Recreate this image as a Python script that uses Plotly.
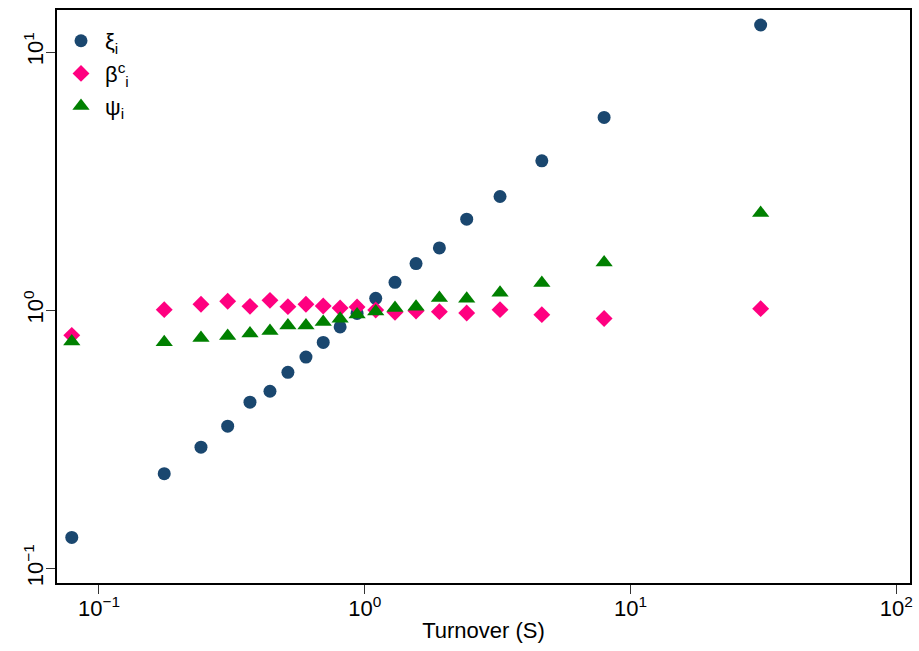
import plotly.graph_objects as go

# ---- data ----
turnover = [0.079, 0.176, 0.242, 0.305, 0.370, 0.440, 0.514, 0.601, 0.698, 0.808,
            0.936, 1.10, 1.30, 1.56, 1.91, 2.42, 3.23, 4.64, 7.96, 30.9]
xi = [0.132, 0.233, 0.295, 0.356, 0.441, 0.486, 0.575, 0.659, 0.751, 0.862,
      0.973, 1.113, 1.284, 1.517, 1.744, 2.253, 2.759, 3.791, 5.583, 12.73]
beta_c = [0.800, 1.006, 1.055, 1.084, 1.036, 1.093, 1.033, 1.055, 1.039, 1.021,
          1.030, 1.003, 0.982, 0.994, 0.988, 0.976, 1.006, 0.962, 0.929, 1.015]
psi = [0.758, 0.753, 0.781, 0.796, 0.814, 0.831, 0.874, 0.874, 0.901, 0.927,
       0.964, 0.990, 1.020, 1.033, 1.115, 1.108, 1.169, 1.276, 1.532, 2.38]

series_names = ["ξ<sub>i</sub>", "β<sup>c</sup><sub>i</sub>", "ψ<sub>i</sub>"]
x_tickvals = [0.1, 1, 10, 100]
x_ticktext = ["10<sup>−1</sup>", "10<sup>0</sup>", "10<sup>1</sup>", "10<sup>2</sup>"]
y_tickvals = [0.1, 1, 10]
y_ticktext = ["10<sup>−1</sup>", "10<sup>0</sup>", "10<sup>1</sup>"]
x_title = "Turnover (S)"

FONT = "Liberation Sans, Arial, sans-serif"

fig = go.Figure()
fig.add_trace(go.Scatter(x=turnover, y=xi, mode="markers", name=series_names[0],
                         marker=dict(symbol="circle", size=13, color="#1a476f"),
                         legend="legend"))
fig.add_trace(go.Scatter(x=turnover, y=beta_c, mode="markers", name=series_names[1],
                         marker=dict(symbol="diamond", size=13, color="#ff0080"),
                         legend="legend2"))
fig.add_trace(go.Scatter(x=turnover, y=psi, mode="markers", name=series_names[2],
                         marker=dict(symbol="triangle-up", size=15, color="#008000"),
                         legend="legend3"))

leg_common = dict(xanchor="left", yanchor="middle", bgcolor="rgba(0,0,0,0)",
                  borderwidth=0, font=dict(family=FONT, size=22, color="black"),
                  itemwidth=38)

fig.update_layout(
    width=919, height=651,
    margin=dict(l=57, r=6, t=10, b=68),
    paper_bgcolor="white", plot_bgcolor="white",
    font=dict(family=FONT, color="black"),
    showlegend=True,
    legend=dict(x=0.0, y=0.946, **leg_common),
    legend2=dict(x=0.0, y=0.889, **leg_common),
    legend3=dict(x=0.0, y=0.832, **leg_common),
    xaxis=dict(type="log", range=[-1.158, 2.052],
               tickvals=x_tickvals, ticktext=x_ticktext,
               ticks="outside", ticklen=9, tickwidth=1.2, tickcolor="#333",
               showline=True, linecolor="black", linewidth=1.5, mirror=True,
               showgrid=False, zeroline=False, ticklabelstandoff=-4,
               tickfont=dict(family=FONT, size=22, color="black"),
               title=dict(text=x_title, font=dict(family=FONT, size=22, color="black"),
                          standoff=2)),
    yaxis=dict(type="log", range=[-1.056, 1.163],
               tickvals=y_tickvals, ticktext=y_ticktext, tickangle=-90,
               ticks="outside", ticklen=9, tickwidth=1.2, tickcolor="#333",
               showline=True, linecolor="black", linewidth=1.5, mirror=True,
               showgrid=False, zeroline=False, ticklabelstandoff=-6,
               tickfont=dict(family=FONT, size=22, color="black")),
)

fig.write_html("out.html", config={"displayModeBar": False},
               post_script="document.body.style.margin='0';document.body.style.overflow='hidden';")
